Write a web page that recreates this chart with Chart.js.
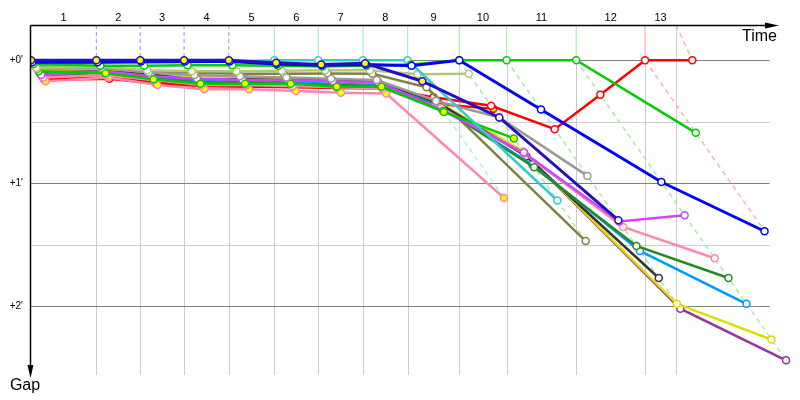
<!DOCTYPE html>
<html>
<head>
<meta charset="utf-8">
<script src="https://cdn.jsdelivr.net/npm/chart.js@4.4.0/dist/chart.umd.min.js"></script>
<style>
  html, body { margin: 0; background: #fff; }
  #wrap { width: 800px; height: 400px; }
</style>
</head>
<body>
<div id="wrap"><canvas id="chart" width="800" height="400"></canvas></div>
<script>
// laps and leader crossing times (minutes from start)
const lapLabels = ['1', '2', '3', '4', '5', '6', '7', '8', '9', '10', '11', '12', '13'];
const lapLines = [0.76, 1.27, 1.78, 2.30, 2.83, 3.34, 3.86, 4.38, 4.98, 5.53, 6.34, 7.14, 7.50];
const lapLeader = ['blueY', 'blueY', 'blueY', 'blueY', 'cyan', 'cyan', 'cyan', 'cyan', 'green', 'green', 'green', 'red', null];
const leaderTimes = [0, 0.76, 1.27, 1.78, 2.30, 2.83, 3.34, 3.86, 4.38, 4.98, 5.53, 6.34, 7.14, 7.69];
const gapTicks = [0, 0.5, 1, 1.5, 2];
const gapLabels = ["+0'", '', "+1'", '', "+2'"];

// gap behind the leader (minutes) at each lap crossing, index 0 = start
const gapBlueL   = [0.015, 0.015, 0.01, 0.01, 0.01, 0.03, 0.04, 0.035, 0.045, 0, 0.40, 0.99, 1.39];
const gapBlueY   = [0, 0, 0, 0, 0, 0.02, 0.035, 0.025, 0.17, 0.465, 1.30];
const gapCyan    = [0.02, 0.02, 0.02, 0.015, 0.01, 0, 0, 0, 0, 1.14];
const gapGreen   = [0.03, 0.045, 0.045, 0.04, 0.04, 0.045, 0.05, 0.045, 0.035, 0, 0, 0, 0.59];
const gapRedA    = [0.16, 0.15, 0.19, 0.21, 0.215, 0.22, 0.225, 0.23, 0.30, 0.37, 0.56, 0.28, 0, 0];
const gapRedB    = [0.15, 0.14, 0.18, 0.2, 0.205, 0.21, 0.215, 0.22, 0.355, 0.395];
const gapGreenY  = [0.09, 0.106, 0.155, 0.19, 0.19, 0.19, 0.215, 0.215, 0.42, 0.635];
const gapPinkY   = [0.17, 0.14, 0.2, 0.236, 0.236, 0.25, 0.264, 0.27, 1.12];
const gapGray    = [0.07, 0.06, 0.1, 0.12, 0.13, 0.14, 0.15, 0.16, 0.33, 0.465, 0.94];
const gapOlive   = [0.05, 0.055, 0.09, 0.1, 0.11, 0.11, 0.108, 0.11, 0.22, 1.47];
const gapKhaki   = [0.06, 0.05, 0.08, 0.09, 0.09, 0.085, 0.08, 0.08, 0.114, 0.11];
const gapBlack   = [0.1, 0.09, 0.115, 0.16, 0.155, 0.16, 0.165, 0.17, 0.34, 0.78, 1.77];
const gapDkGreen = [0.12, 0.1, 0.15, 0.18, 0.18, 0.19, 0.2, 0.21, 0.38, 0.87, 1.51, 1.77];
const gapLtBlue  = [0.11, 0.1, 0.14, 0.17, 0.17, 0.18, 0.19, 0.2, 0.37, 0.85, 1.55, 1.98];
const gapYellow  = [0.08, 0.07, 0.11, 0.13, 0.14, 0.15, 0.16, 0.17, 0.33, 0.74, 1.98, 2.27];
const gapPurple  = [0.13, 0.1, 0.15, 0.19, 0.2, 0.21, 0.21, 0.22, 0.40, 0.75, 2.02, 2.44];
const gapViolet  = [0.12, 0.09, 0.13, 0.15, 0.16, 0.16, 0.17, 0.18, 0.41, 0.75, 1.31, 1.26];
const gapPink    = [0.14, 0.12, 0.16, 0.2, 0.2, 0.21, 0.22, 0.23, 0.39, 0.76, 1.355, 1.61];

// first entry is drawn on top
const riders = [
  { key: 'blueY',   gaps: gapBlueY,   color: '#2010c0', hi: [0, 1, 2, 3, 4, 5, 6, 7, 8] },
  { key: 'blueL',   gaps: gapBlueL,   color: '#0000ff', hi: [] },
  { key: 'green',   gaps: gapGreen,   color: '#00cc00', hi: [] },
  { key: 'cyan',    gaps: gapCyan,    color: '#33cccc', hi: [] },
  { key: 'khaki',   gaps: gapKhaki,   color: '#b0c878', hi: [] },
  { key: 'gray',    gaps: gapGray,    color: '#999999', hi: [] },
  { key: 'greenY',  gaps: gapGreenY,  color: '#00cc00', hi: [0, 1, 2, 3, 4, 5, 6, 7, 8, 9] },
  { key: 'violet',  gaps: gapViolet,  color: '#cc44ff', hi: [8] },
  { key: 'pink',    gaps: gapPink,    color: '#ff88aa', hi: [] },
  { key: 'dkgreen', gaps: gapDkGreen, color: '#228b22', hi: [] },
  { key: 'ltblue',  gaps: gapLtBlue,  color: '#0099ff', hi: [] },
  { key: 'black',   gaps: gapBlack,   color: '#333333', hi: [] },
  { key: 'yellow',  gaps: gapYellow,  color: '#dddd00', hi: [] },
  { key: 'purple',  gaps: gapPurple,  color: '#993399', hi: [] },
  { key: 'olive',   gaps: gapOlive,   color: '#808040', hi: [] },
  { key: 'pinkY',   gaps: gapPinkY,   color: '#ff88aa', hi: [0, 1, 2, 3, 4, 5, 6, 7, 8] },
  { key: 'red',     gaps: gapRedA,    color: '#ff0000', hi: [] },
  { key: 'redB',    gaps: gapRedB,    color: '#ff0000', hi: [8, 9] }
];

const markStyle = {
  blueY: { color: '#a0a0ff', dash: [4, 3] },
  cyan:  { color: '#a8e8e8', dash: [] },
  green: { color: '#a8eea8', dash: [] },
  red:   { color: '#ffaaaa', dash: [] }
};
const diagStyle = {
  cyan:  '#b0eeee',
  green: '#a8e8a8',
  red:   '#ffb0b0'
};

const X_MAX = 8.942;
const Y_MIN = -0.287;
const Y_MAX = 2.559;
const GRID_END = 8.59;
const FONT = "'Liberation Sans', Arial, sans-serif";

// leader marks at the top and the "same lap" diagonals
const helperSets = [];
lapLines.forEach((t, i) => {
  const who = lapLeader[i];
  if (!who) return;
  const st = markStyle[who];
  helperSets.push({
    data: [{ x: t, y: Y_MIN }, { x: t, y: 0 }],
    borderColor: st.color, borderDash: st.dash, borderWidth: 1.2,
    pointRadius: 0, order: 5
  });
});
for (let lap = 8; lap <= 12; lap++) {
  const maxGap = Math.max(...riders.filter(r => r.gaps.length > lap).map(r => r.gaps[lap]));
  const who = lapLeader[lap - 1];
  helperSets.push({
    data: [{ x: leaderTimes[lap], y: 0 }, { x: leaderTimes[lap] + maxGap, y: maxGap }],
    borderColor: diagStyle[who], borderDash: [5, 4], borderWidth: 1.5,
    pointRadius: 0, order: 5
  });
}
// finish-line lead-in
helperSets.push({
  data: [{ x: lapLines[12], y: Y_MIN }, { x: leaderTimes[13], y: 0 }],
  borderColor: diagStyle.red, borderDash: [5, 4], borderWidth: 1.5,
  pointRadius: 0, order: 5
});

const riderSets = riders.map(r => ({
  data: r.gaps.map((g, i) => ({ x: leaderTimes[i] + g, y: g })),
  borderColor: r.color,
  borderWidth: r.key === 'blueL' || r.key === 'blueY' ? 3 : 2.5,
  pointRadius: 3.5,
  pointBorderWidth: 1.5,
  pointBorderColor: r.color,
  pointBackgroundColor: r.gaps.map((g, i) => r.hi.includes(i) ? '#ffff00' : '#ffffff'),
  tension: 0,
  order: 0
}));

const frame = {
  id: 'frame',
  beforeDatasetsDraw(chart) {
    const { ctx, scales: { x, y } } = chart;
    const left = x.getPixelForValue(0);
    const right = x.getPixelForValue(GRID_END);
    ctx.save();
    ctx.lineWidth = 1;
    // vertical lap lines
    lapLines.forEach((t, i) => {
      const px = Math.round(x.getPixelForValue(t)) + 0.5;
      const top = lapLeader[i] ? y.getPixelForValue(0) : y.getPixelForValue(Y_MIN);
      ctx.strokeStyle = '#cccccc';
      ctx.beginPath();
      ctx.moveTo(px, top);
      ctx.lineTo(px, y.getPixelForValue(Y_MAX));
      ctx.stroke();
    });
    // horizontal gap lines
    gapTicks.forEach(g => {
      const py = Math.round(y.getPixelForValue(g)) + 0.5;
      ctx.strokeStyle = Number.isInteger(g) ? '#808080' : '#cccccc';
      ctx.beginPath();
      ctx.moveTo(left, py);
      ctx.lineTo(right, py);
      ctx.stroke();
    });
    ctx.restore();
  },
  afterDatasetsDraw(chart) {
    const { ctx, scales: { x, y } } = chart;
    const ox = Math.round(x.getPixelForValue(0)) - 0.5;
    const oy = Math.round(y.getPixelForValue(Y_MIN)) + 0.5;
    const bottom = y.getPixelForValue(Y_MAX);
    ctx.save();
    ctx.strokeStyle = '#000';
    ctx.fillStyle = '#000';
    ctx.lineWidth = 1.5;
    // time axis
    ctx.beginPath();
    ctx.moveTo(ox, oy);
    ctx.lineTo(768, oy);
    ctx.stroke();
    ctx.beginPath();
    ctx.moveTo(779, oy);
    ctx.lineTo(765, oy - 3);
    ctx.lineTo(765, oy + 3);
    ctx.closePath();
    ctx.fill();
    // gap axis
    ctx.beginPath();
    ctx.moveTo(ox, oy);
    ctx.lineTo(ox, bottom - 2);
    ctx.stroke();
    ctx.beginPath();
    ctx.moveTo(ox, bottom + 3);
    ctx.lineTo(ox - 3, bottom - 10);
    ctx.lineTo(ox + 3, bottom - 10);
    ctx.closePath();
    ctx.fill();

    // lap numbers
    ctx.font = '11px ' + FONT;
    ctx.textAlign = 'center';
    ctx.textBaseline = 'middle';
    const edges = [0, ...lapLines];
    lapLabels.forEach((lab, i) => {
      const mid = (x.getPixelForValue(edges[i]) + x.getPixelForValue(edges[i + 1])) / 2;
      ctx.fillText(lab, mid, 18);
    });
    // gap labels
    ctx.font = '10px ' + FONT;
    ctx.textAlign = 'right';
    gapTicks.forEach((g, i) => {
      if (gapLabels[i]) ctx.fillText(gapLabels[i], 23, y.getPixelForValue(g));
    });
    // axis titles
    ctx.font = '16px ' + FONT;
    ctx.textAlign = 'right';
    ctx.textBaseline = 'alphabetic';
    ctx.fillText('Time', 777, 41);
    ctx.textAlign = 'center';
    ctx.fillText('Gap', 25, 390);
    ctx.restore();
  }
};

new Chart(document.getElementById('chart'), {
  type: 'line',
  data: { datasets: [...riderSets, ...helperSets] },
  options: {
    responsive: false,
    animation: false,
    events: [],
    layout: { autoPadding: false, padding: { left: 31, top: 25, right: 0, bottom: 25 } },
    plugins: { legend: { display: false }, tooltip: { enabled: false } },
    scales: {
      x: { type: 'linear', min: 0, max: X_MAX, display: false },
      y: { type: 'linear', min: Y_MIN, max: Y_MAX, reverse: true, display: false }
    }
  },
  plugins: [frame]
});
</script>
</body>
</html>
